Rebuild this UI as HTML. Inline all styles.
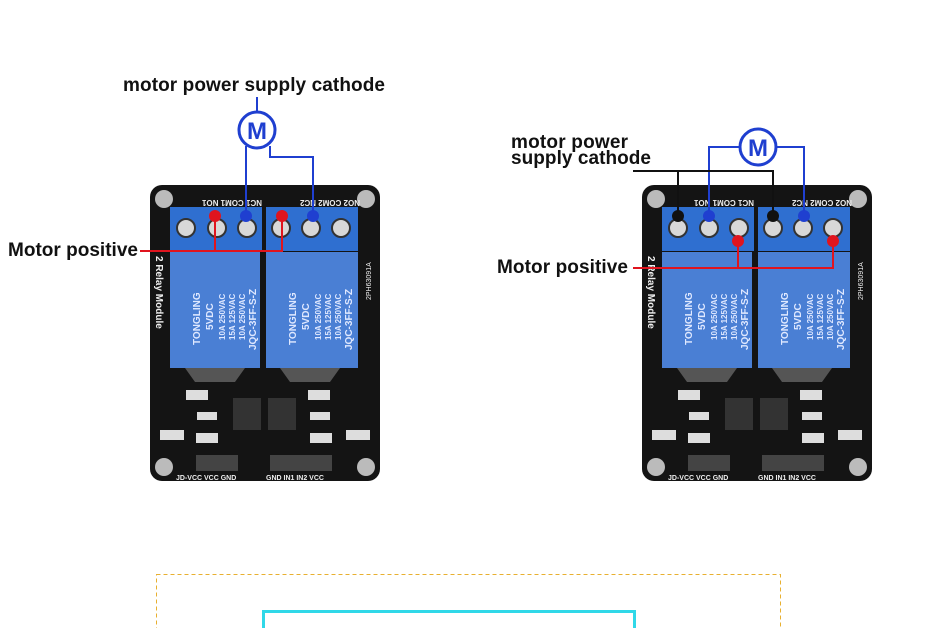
<!DOCTYPE html>
<html><head><meta charset="utf-8"><style>
html,body{margin:0;padding:0;background:#fff;}
svg{display:block;font-family:"Liberation Sans",sans-serif;}
</style></head><body>
<svg width="950" height="628" viewBox="0 0 950 628" xmlns="http://www.w3.org/2000/svg">
<defs>
<g id="board">
  <rect x="150" y="185" width="230" height="296" rx="12" fill="#141414"/>
  <circle cx="164" cy="199" r="9" fill="#bbb"/><circle cx="366" cy="199" r="9" fill="#bbb"/>
  <circle cx="164" cy="467" r="9" fill="#bbb"/><circle cx="366" cy="467" r="9" fill="#bbb"/>
  <g fill="#eee" font-size="8" font-weight="bold">
    <text transform="translate(262,200) rotate(180)">NC1  COM1  NO1</text>
    <text transform="translate(360,200) rotate(180)">NO2 COM2  NC2</text>
  </g>
  <rect x="170" y="207" width="92" height="44" fill="#2f6fd0"/>
  <rect x="266" y="207" width="92" height="44" fill="#2f6fd0"/>
  <g fill="#d8d8d8" stroke="#333" stroke-width="2">
    <circle cx="186" cy="228" r="9"/><circle cx="217" cy="228" r="9"/><circle cx="247" cy="228" r="9"/>
    <circle cx="281" cy="228" r="9"/><circle cx="311" cy="228" r="9"/><circle cx="341" cy="228" r="9"/>
  </g>
  <rect x="170" y="252" width="90" height="116" fill="#4a7fd4"/>
  <rect x="266" y="252" width="92" height="116" fill="#4a7fd4"/>
  <path d="M185 368 L195 382 L235 382 L245 368 Z M280 368 L290 382 L330 382 L340 368 Z" fill="#555"/>
  <g fill="#dfe8ff" font-size="10" font-weight="bold">
    <text transform="translate(200,345) rotate(-90)">TONGLING</text>
    <text transform="translate(213,330) rotate(-90)">5VDC</text>
    <text transform="translate(225,340) rotate(-90)" font-size="8">10A 250VAC</text>
    <text transform="translate(235,340) rotate(-90)" font-size="8">15A 125VAC</text>
    <text transform="translate(245,340) rotate(-90)" font-size="8">10A 250VAC</text>
    <text transform="translate(256,350) rotate(-90)">JQC-3FF-S-Z</text>
    <text transform="translate(296,345) rotate(-90)">TONGLING</text>
    <text transform="translate(309,330) rotate(-90)">5VDC</text>
    <text transform="translate(321,340) rotate(-90)" font-size="8">10A 250VAC</text>
    <text transform="translate(331,340) rotate(-90)" font-size="8">15A 125VAC</text>
    <text transform="translate(341,340) rotate(-90)" font-size="8">10A 250VAC</text>
    <text transform="translate(352,350) rotate(-90)">JQC-3FF-S-Z</text>
  </g>
  <text transform="translate(156,256) rotate(90)" fill="#eee" font-size="10" font-weight="bold">2 Relay Module</text>
  <text transform="translate(371,300) rotate(-90)" fill="#eee" font-size="7">2PH63091A</text>
  <rect x="233" y="398" width="28" height="32" fill="#333"/><rect x="268" y="398" width="28" height="32" fill="#333"/>
  <g fill="#ddd">
    <rect x="186" y="390" width="22" height="10"/><rect x="308" y="390" width="22" height="10"/>
    <rect x="197" y="412" width="20" height="8"/><rect x="310" y="412" width="20" height="8"/>
    <rect x="160" y="430" width="24" height="10"/><rect x="346" y="430" width="24" height="10"/>
    <rect x="196" y="433" width="22" height="10"/><rect x="310" y="433" width="22" height="10"/>
  </g>
  <rect x="196" y="455" width="42" height="16" fill="#444"/><rect x="270" y="455" width="62" height="16" fill="#444"/>
  <g fill="#eee" font-size="7" font-weight="bold">
    <text x="176" y="480">JD-VCC VCC GND</text><text x="266" y="480">GND IN1 IN2 VCC</text>
  </g>
</g>
</defs>
<use href="#board"/>
<use href="#board" transform="translate(492,0)"/>

<g font-weight="bold" fill="#111" font-size="19">
  <text x="123" y="91" textLength="262">motor power supply cathode</text>
  <text x="8" y="256" textLength="130">Motor positive</text>
  <text x="511" y="148" textLength="117">motor power</text>
  <text x="511" y="164" textLength="140">supply cathode</text>
  <text x="497" y="273" textLength="131">Motor positive</text>
</g>

<!-- left wiring -->
<line x1="257" y1="97" x2="257" y2="112" stroke="#1f3fd0" stroke-width="2"/>
<circle cx="257" cy="130" r="18" fill="#fff" stroke="#1f3fd0" stroke-width="3"/>
<text x="257" y="139" text-anchor="middle" font-size="24" font-weight="bold" fill="#1f3fd0">M</text>
<polyline points="246,146 246,216" fill="none" stroke="#1f3fd0" stroke-width="2"/>
<polyline points="270,146 270,157 313,157 313,216" fill="none" stroke="#1f3fd0" stroke-width="2"/>
<circle cx="246" cy="216" r="6" fill="#1f3fd0"/><circle cx="313" cy="216" r="6" fill="#1f3fd0"/>
<polyline points="140,251 282,251 282,216" fill="none" stroke="#e0141e" stroke-width="2"/>
<line x1="215" y1="216" x2="215" y2="251" stroke="#e0141e" stroke-width="2"/>
<circle cx="215" cy="216" r="6" fill="#e0141e"/><circle cx="282" cy="216" r="6" fill="#e0141e"/>

<!-- right wiring -->
<circle cx="758" cy="147" r="18" fill="#fff" stroke="#1f3fd0" stroke-width="3"/>
<text x="758" y="156" text-anchor="middle" font-size="24" font-weight="bold" fill="#1f3fd0">M</text>
<polyline points="740,147 709,147 709,216" fill="none" stroke="#1f3fd0" stroke-width="2"/>
<polyline points="776,147 804,147 804,216" fill="none" stroke="#1f3fd0" stroke-width="2"/>
<circle cx="709" cy="216" r="6" fill="#1f3fd0"/><circle cx="804" cy="216" r="6" fill="#1f3fd0"/>
<polyline points="633,171 773,171 773,216" fill="none" stroke="#111" stroke-width="2"/>
<line x1="678" y1="171" x2="678" y2="216" stroke="#111" stroke-width="2"/>
<circle cx="678" cy="216" r="6" fill="#111"/><circle cx="773" cy="216" r="6" fill="#111"/>
<polyline points="633,268 833,268 833,241" fill="none" stroke="#e0141e" stroke-width="2"/>
<line x1="738" y1="241" x2="738" y2="268" stroke="#e0141e" stroke-width="2"/>
<circle cx="738" cy="241" r="6" fill="#e0141e"/><circle cx="833" cy="241" r="6" fill="#e0141e"/>

<!-- bottom -->
<rect x="156.5" y="574.5" width="624" height="80" fill="none" stroke="#e8b030" stroke-width="1" stroke-dasharray="4,3"/>
<rect x="263.5" y="611.5" width="371" height="40" fill="none" stroke="#30d8e8" stroke-width="3"/>
</svg>
</body></html>
